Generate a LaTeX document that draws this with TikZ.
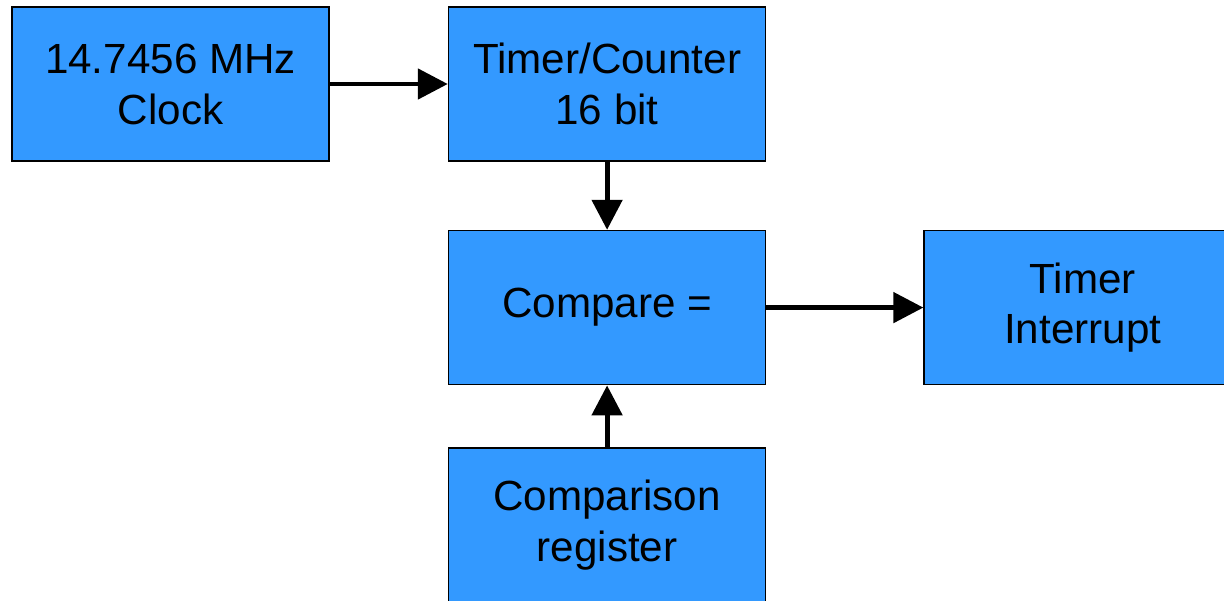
\documentclass[tikz,border=0pt]{standalone}
\usepackage{fontspec}
\setmainfont{Liberation Sans}
\usepackage{xcolor}
\usetikzlibrary{positioning, arrows.meta}
\definecolor{boxblue}{HTML}{3399FF}
\tikzset{
    block/.style={draw=black, line width=0.9pt, fill=boxblue, minimum width=6.34cm, minimum height=3.08cm, align=center, inner sep=0pt, font=\fontsize{24}{29}\selectfont}, % every box in the chain
}
\tikzstyle{arrow} = [line width=2.8pt, -{Triangle[length=0.6cm, width=0.6cm]}]

\begin{document}
\begin{tikzpicture}
    \useasboundingbox (0,0) rectangle (24.48,-12);

    \node[block] (clock) at (3.41,-1.68) {14.7456 MHz\\Clock};
    \node[block, right=2.36cm of clock] (counter) {Timer/Counter\\16 bit};
    \node[block, below=1.36cm of counter] (compare) {Compare =};
    \node[block, right=3.14cm of compare] (irq) {Timer\\Interrupt};
    \node[block, below=1.24cm of compare] (reg) {Comparison\\register};

    \draw[arrow] (clock) -- (counter);
    \draw[arrow] (counter) -- (compare);
    \draw[arrow] (compare) -- (irq);
    \draw[arrow] (reg) -- (compare);
\end{tikzpicture}
\end{document}
